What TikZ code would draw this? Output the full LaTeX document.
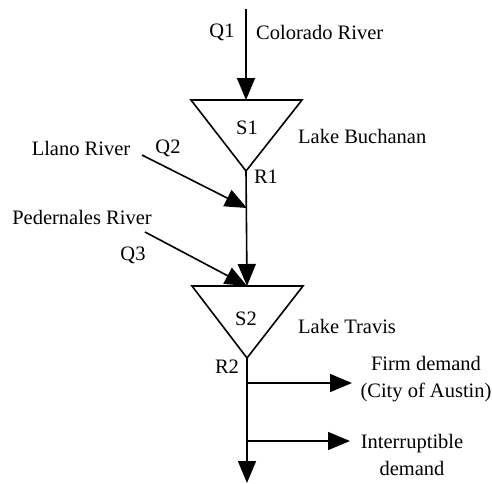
\documentclass[tikz,border=0pt]{standalone}
\usepackage{fontspec}
\setmainfont{Liberation Serif}
\usetikzlibrary{arrows.meta}
\begin{document}
\begin{tikzpicture}[x=1pt,y=-1pt,
  lbl/.style={inner sep=0pt,font=\fontsize{20.5}{26.5}\selectfont},
  flow/.style={line width=1.6pt,-{Triangle[length=22pt,width=18pt]}},
  res/.style={line width=1.6pt,line join=miter}]
\useasboundingbox (0,0) rectangle (492,483);
% reservoirs
\coordinate (s1l) at (191,100);
\coordinate (s1r) at (302,100);
\coordinate (s1t) at (246,100);
\coordinate (s1a) at (246,171);
\draw[res] (s1l) -- (s1r) -- (s1a) -- cycle;
\coordinate (s2l) at (192,286);
\coordinate (s2r) at (303,286);
\coordinate (s2t) at (247,286);
\coordinate (s2a) at (247,358);
\draw[res] (s2l) -- (s2r) -- (s2a) -- cycle;
% labels
\node[lbl] (q1) at (222,32) {Q1};
\node[lbl,anchor=west] (colr) at (256,32) {Colorado River};
\node[lbl] (s1) at (247,128) {S1};
\node[lbl,anchor=west] (lb) at (298,136) {Lake Buchanan};
\node[lbl] (r1) at (266,177) {R1};
\node[lbl] (llano) at (81,148) {Llano River};
\node[lbl] (q2) at (168,148) {Q2};
\node[lbl] (ped) at (82,217) {Pedernales River};
\node[lbl] (q3) at (133,255) {Q3};
\node[lbl] (s2) at (246,319) {S2};
\node[lbl,anchor=west] (lt) at (298,326) {Lake Travis};
\node[lbl] (r2) at (227,367) {R2};
\node[lbl,align=center] (firm) at (426,379) {Firm demand\\(City of Austin)};
\node[lbl,align=center] (intr) at (412,455) {Interruptible\\demand};
% flows
\coordinate (q1s) at (246,9);
\draw[flow] (q1s) -- (s1t);
\coordinate (q2s) at (142,155);
\coordinate (q2e) at (247,208);
\draw[flow] (q2s) -- (q2e);
\coordinate (q3s) at (145,232);
\draw[flow] (q3s) -- (s2t);
\draw[flow] (s1a) -- (s2t);
\coordinate (out) at (247,483);
\draw[flow] (s2a) -- (out);
\coordinate (b1) at (247,383);
\coordinate (b1e) at (352,383);
\draw[flow] (b1) -- (b1e);
\coordinate (b2) at (247,441);
\coordinate (b2e) at (350,441);
\draw[flow] (b2) -- (b2e);
\end{tikzpicture}
\end{document}
